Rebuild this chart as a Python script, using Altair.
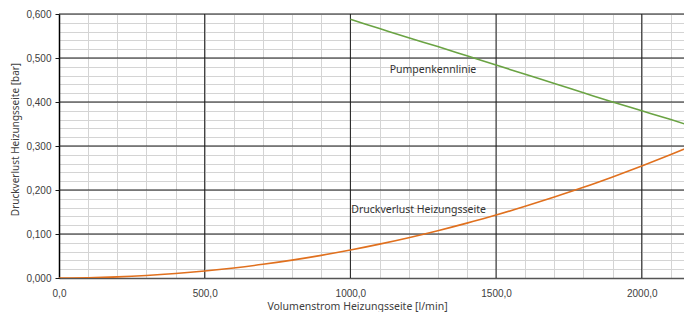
import altair as alt
import pandas as pd

# Druckverlust Heizungsseite [bar] over Volumenstrom [l/min]
q_loss = [0, 100, 200, 300, 400, 500, 600, 700, 800, 900, 1000, 1100, 1200,
          1300, 1400, 1500, 1600, 1700, 1800, 1900, 2000, 2100, 2172]
dp_loss = [0.0, 0.0006, 0.0025, 0.0057, 0.0102, 0.0159, 0.0229, 0.0312, 0.0407,
           0.0515, 0.0636, 0.077, 0.0916, 0.1075, 0.1247, 0.143, 0.163, 0.184,
           0.206, 0.2296, 0.2544, 0.2805, 0.300]

# Pumpenkennlinie
q_pump = [1000, 1100, 1200, 1300, 1400, 1500, 1600, 1700, 1800, 1900, 2000, 2100, 2172]
dp_pump = [0.588, 0.567, 0.546, 0.526, 0.505, 0.484, 0.463, 0.442, 0.421, 0.400,
           0.380, 0.360, 0.345]

# annotations
label_text = ["Pumpenkennlinie", "Druckverlust Heizungsseite"]
label_q = [1135, 1003]
label_dp = [0.473, 0.1545]

x_ticks = list(range(0, 2200, 100))
y_ticks = [round(i * 0.02, 2) for i in range(31)]
x_major = [500, 1000, 1500, 2000]
y_major = [0.1, 0.2, 0.3, 0.4, 0.5, 0.6]
x_max = 2145

loss_df = pd.DataFrame({"q": q_loss, "dp": dp_loss})
pump_df = pd.DataFrame({"q": q_pump, "dp": dp_pump})
lab_df = pd.DataFrame({"t": label_text, "q": label_q, "dp": label_dp})
xmaj_df = pd.DataFrame({"q": x_major})
ymaj_df = pd.DataFrame({"dp": y_major})

xscale = alt.Scale(domain=[0, x_max], nice=False, zero=True)
yscale = alt.Scale(domain=[0, 0.6], nice=False)

x_axis = alt.Axis(
    title="Volumenstrom Heizungsseite [l/min]",
    values=x_ticks,
    labelExpr="datum.value % 500 == 0 ? replace(format(datum.value, '.1f'), '.', ',') : ''",
    gridColor="#d4d4d4",
    ticks=False,
    labelPadding=10,
    labelFont="Liberation Sans", labelFontSize=10, labelColor="#404040",
    labelFlush=False, labelOverlap=False,
    titleFont="Noto Sans", titleFontSize=10.5, titleFontWeight="normal", titleColor="#404040",
    titleX=298, titleY=31, titleBaseline="alphabetic", titleAlign="center",
    domainColor="#555555", domainWidth=1.5,
)
y_axis = alt.Axis(
    title="Druckverlust Heizungsseite [bar]",
    values=y_ticks,
    labelExpr="round(datum.value * 100) % 10 == 0 ? replace(format(datum.value, '.3f'), '.', ',') : ''",
    gridColor="#d4d4d4",
    tickColor={"condition": {"test": "round(datum.value * 100) % 10 == 0", "value": "#1a1a1a"}, "value": "transparent"},
    tickSize=4,
    labelPadding=4,
    labelFont="Liberation Sans", labelFontSize=10, labelColor="#404040",
    labelFlush=False, labelOverlap=False,
    titleFont="Noto Sans", titleFontSize=10, titleFontWeight="normal", titleColor="#404040",
    titleX=-44, titleY=125, titleAngle=270, titleAlign="center", titleBaseline="middle",
    domainColor="#000000", domainWidth=1.5,
)

X = alt.X("q:Q", scale=xscale, axis=x_axis)
Y = alt.Y("dp:Q", scale=yscale, axis=y_axis)

xmaj = alt.Chart(xmaj_df).mark_rule(color="#1a1a1a", strokeWidth=1).encode(x=X)
ymaj = alt.Chart(ymaj_df).mark_rule(color="#1a1a1a", strokeWidth=1).encode(y=Y)

loss = alt.Chart(loss_df).mark_line(color="#E0701E", strokeWidth=1.6, interpolate="monotone", clip=True).encode(
    x=X, y=Y)
pump = alt.Chart(pump_df).mark_line(color="#6AA343", strokeWidth=1.6, interpolate="monotone", clip=True).encode(
    x=X, y=Y)
labels = alt.Chart(lab_df).mark_text(font="Noto Sans", fontSize=10.5, color="#333333",
                                     align="left", baseline="middle").encode(
    x=X, y=Y, text="t:N")

chart = alt.layer(xmaj, ymaj, loss, pump, labels).properties(
    width=625, height=264,
    autosize=alt.AutoSizeParams(type="none"),
    padding={"left": 51, "top": 6, "right": 0, "bottom": 34},
).configure_view(stroke=None).configure_axis(gridWidth=1)

chart.save("out.html", embed_options={"renderer": "svg", "actions": False})
